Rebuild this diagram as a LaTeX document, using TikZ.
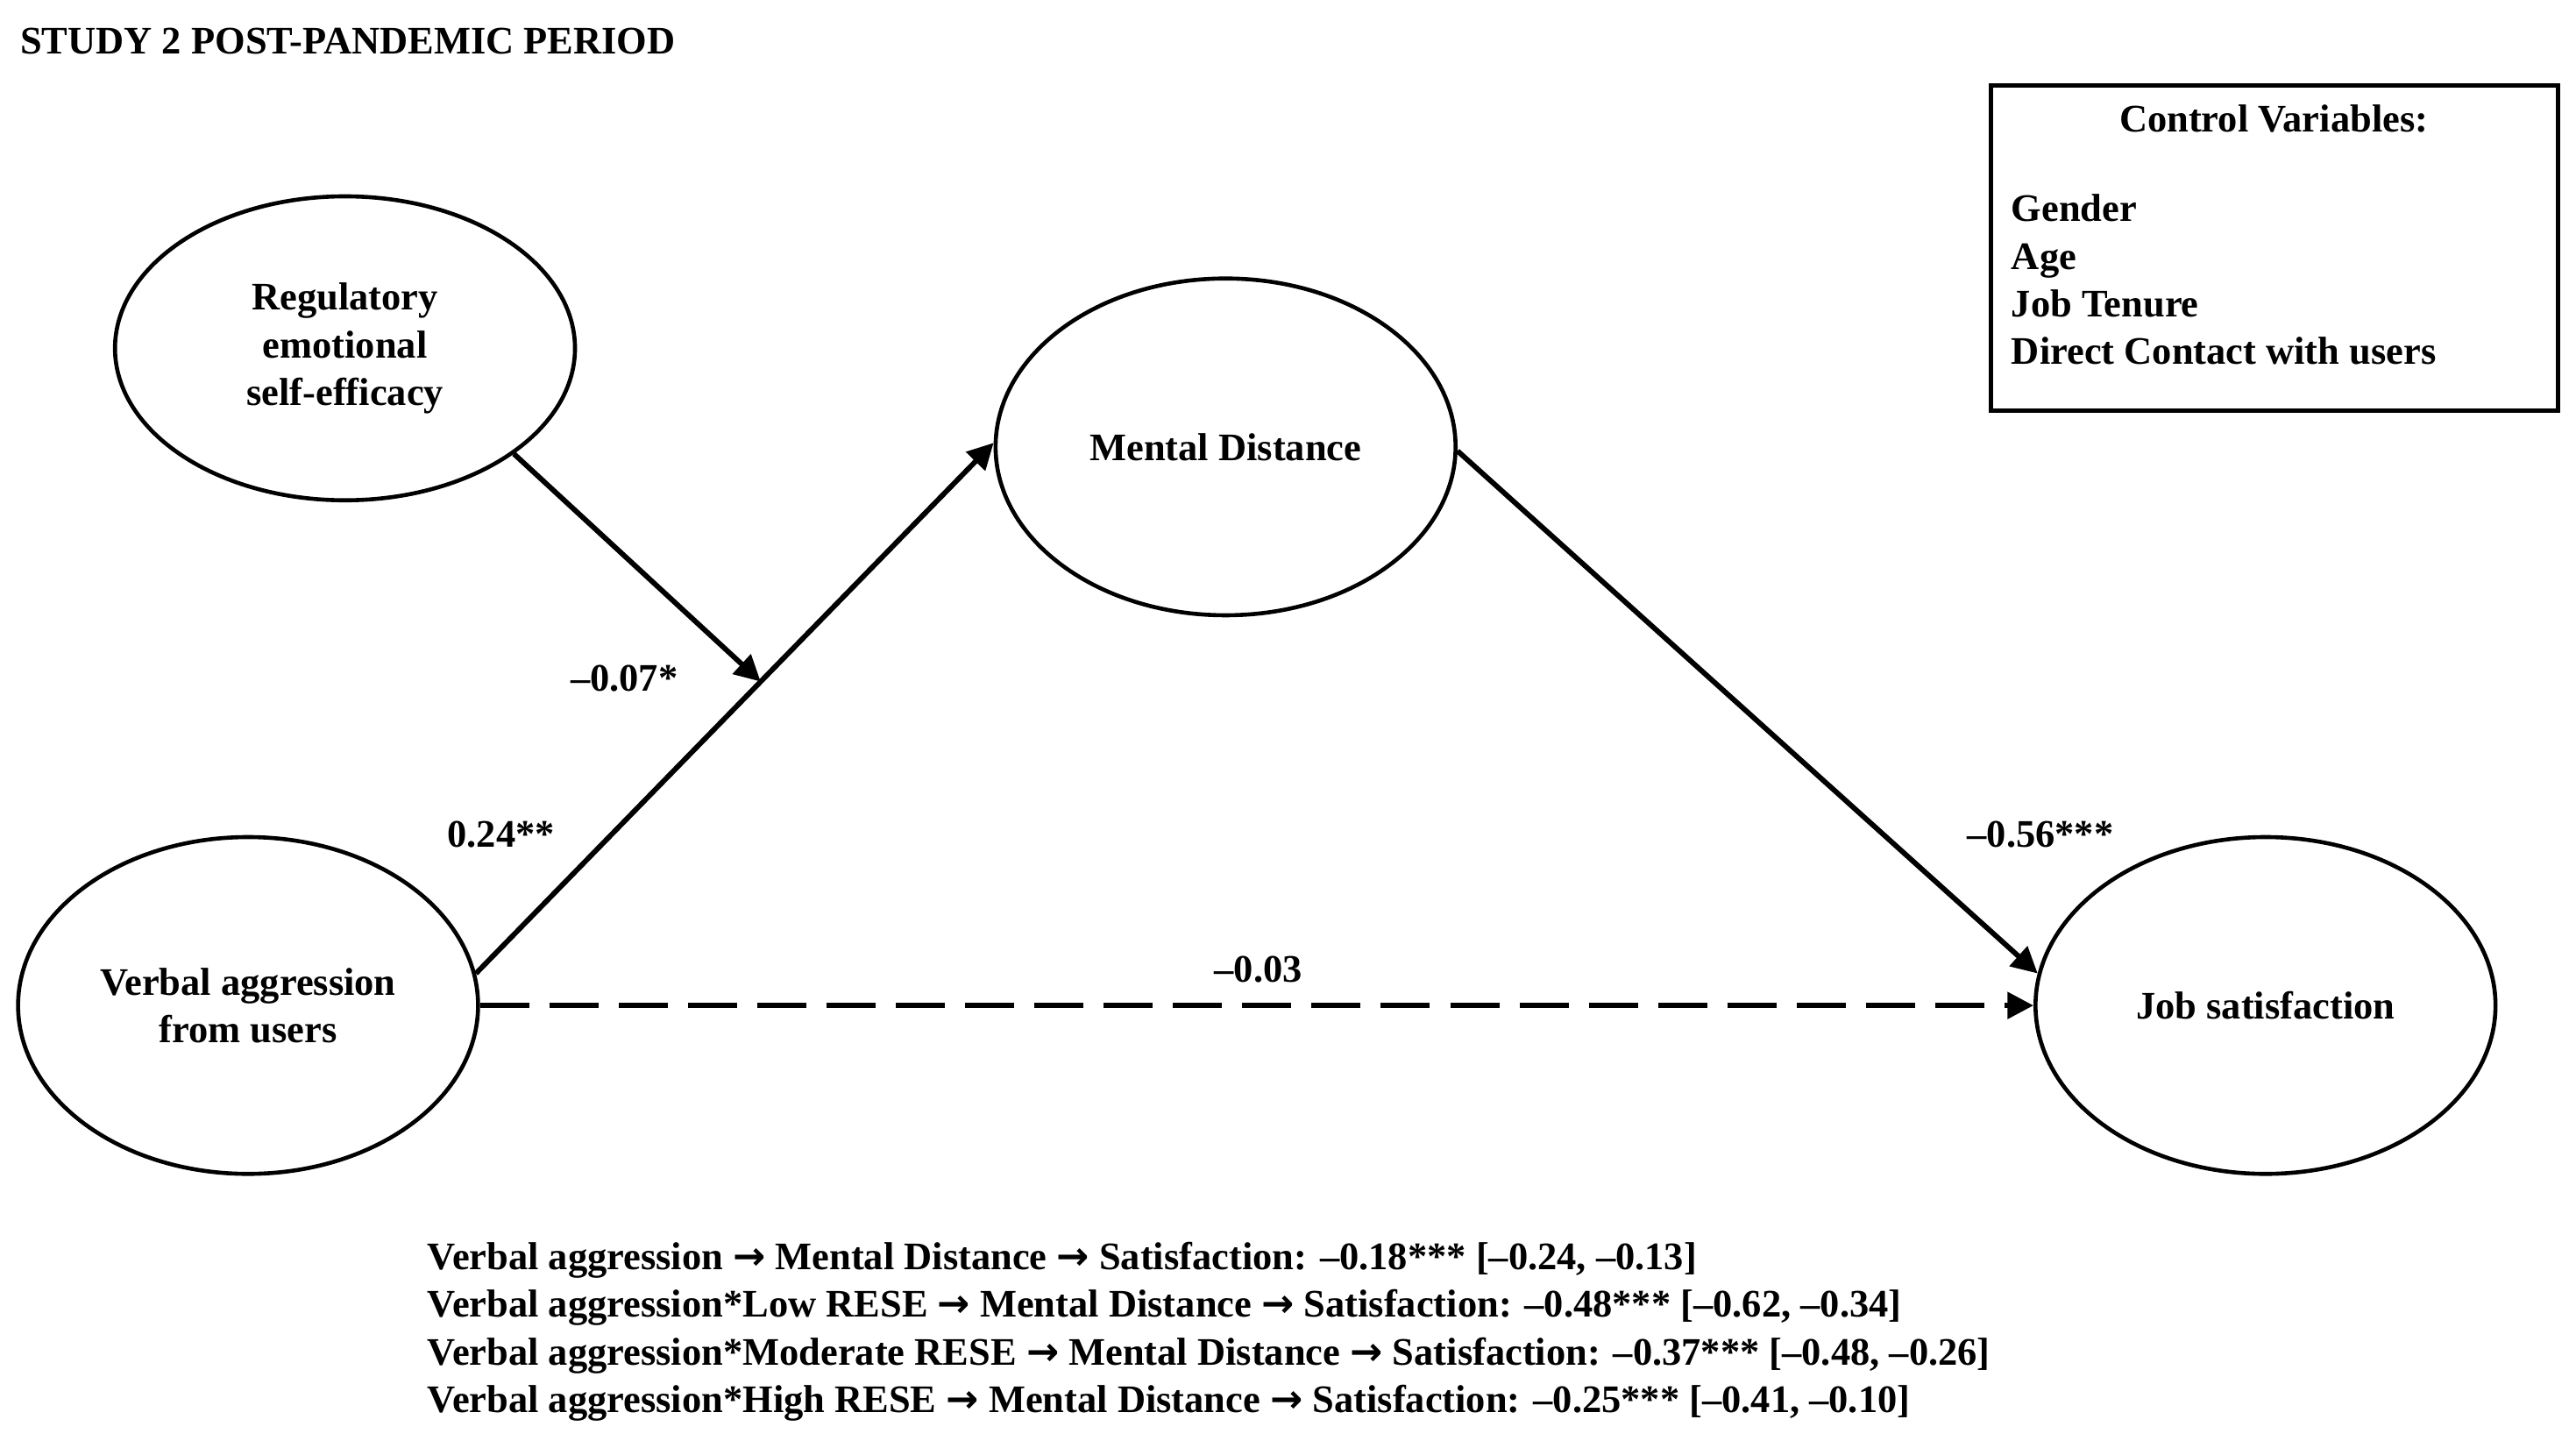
\documentclass[tikz,border=0pt]{standalone}
\usepackage{fontspec}
\setmainfont{Liberation Serif}
\newfontfamily\arrowfont{DejaVu Sans}
\newcommand{\myarr}{{\arrowfont\bfseries →}}
\usetikzlibrary{shapes.geometric,arrows.meta}
\begin{document}
\begin{tikzpicture}[x=0.2mm,y=-0.2mm,
  ell/.style={draw,ellipse,line width=1.4pt,align=center,font=\fontsize{13.5}{16.5}\selectfont\bfseries},
  arr/.style={line width=1.8pt,-{Triangle[length=9pt,width=9pt]}},
  lbl/.style={font=\fontsize{13.5}{16}\selectfont\bfseries},
  txt/.style={font=\fontsize{13.5}{16}\selectfont\bfseries,anchor=west,inner sep=0}]
\useasboundingbox (0,0) rectangle (1568,881);
\node[txt] (title) at (12,25) {STUDY 2 POST-PANDEMIC PERIOD};
\node[ell,minimum width=56mm,minimum height=37mm] (rese) at (210,212) {Regulatory\\emotional\\self-efficacy};
\node[ell,minimum width=56mm,minimum height=41mm] (md) at (746,272) {Mental Distance};
\node[ell,minimum width=56mm,minimum height=41mm] (va) at (151,612) {Verbal aggression\\from users};
\node[ell,minimum width=56mm,minimum height=41mm] (js) at (1379,612) {Job satisfaction};
\node[draw,line width=1.4pt,minimum width=69mm,minimum height=39.6mm] (cv) at (1384.5,151) {};
\node[lbl] (cvt) at (1384,72) {Control Variables:};
\node[txt,align=left,anchor=north west,font=\fontsize{13.5}{16.5}\selectfont\bfseries] (cvl) at (1224,118) {Gender\\Age\\Job Tenure\\Direct Contact with users};
\draw[arr] (va.8) -- (md.179) coordinate[pos=0.55] (mid);
\draw[arr] (rese.-32) -- (mid);
\draw[arr] (md.-1) -- (js.172);
\draw[arr,dash pattern=on 17pt off 7pt] (va.east) -- (js.west);
\node[lbl] (l1) at (380,413) {–0.07*};
\node[lbl] (l2) at (305,508) {0.24**};
\node[lbl] (l3) at (1242,508) {–0.56***};
\node[lbl] (l4) at (766,590) {–0.03};
\node[txt] (b1) at (260,767) {Verbal aggression \myarr{} Mental Distance \myarr{} Satisfaction: –0.18*** [–0.24, –0.13]};
\node[txt] (b2) at (260,796) {Verbal aggression*Low RESE \myarr{} Mental Distance \myarr{} Satisfaction: –0.48*** [–0.62, –0.34]};
\node[txt] (b3) at (260,825) {Verbal aggression*Moderate RESE \myarr{} Mental Distance \myarr{} Satisfaction: –0.37*** [–0.48, –0.26]};
\node[txt] (b4) at (260,854) {Verbal aggression*High RESE \myarr{} Mental Distance \myarr{} Satisfaction: –0.25*** [–0.41, –0.10]};
\end{tikzpicture}
\end{document}
